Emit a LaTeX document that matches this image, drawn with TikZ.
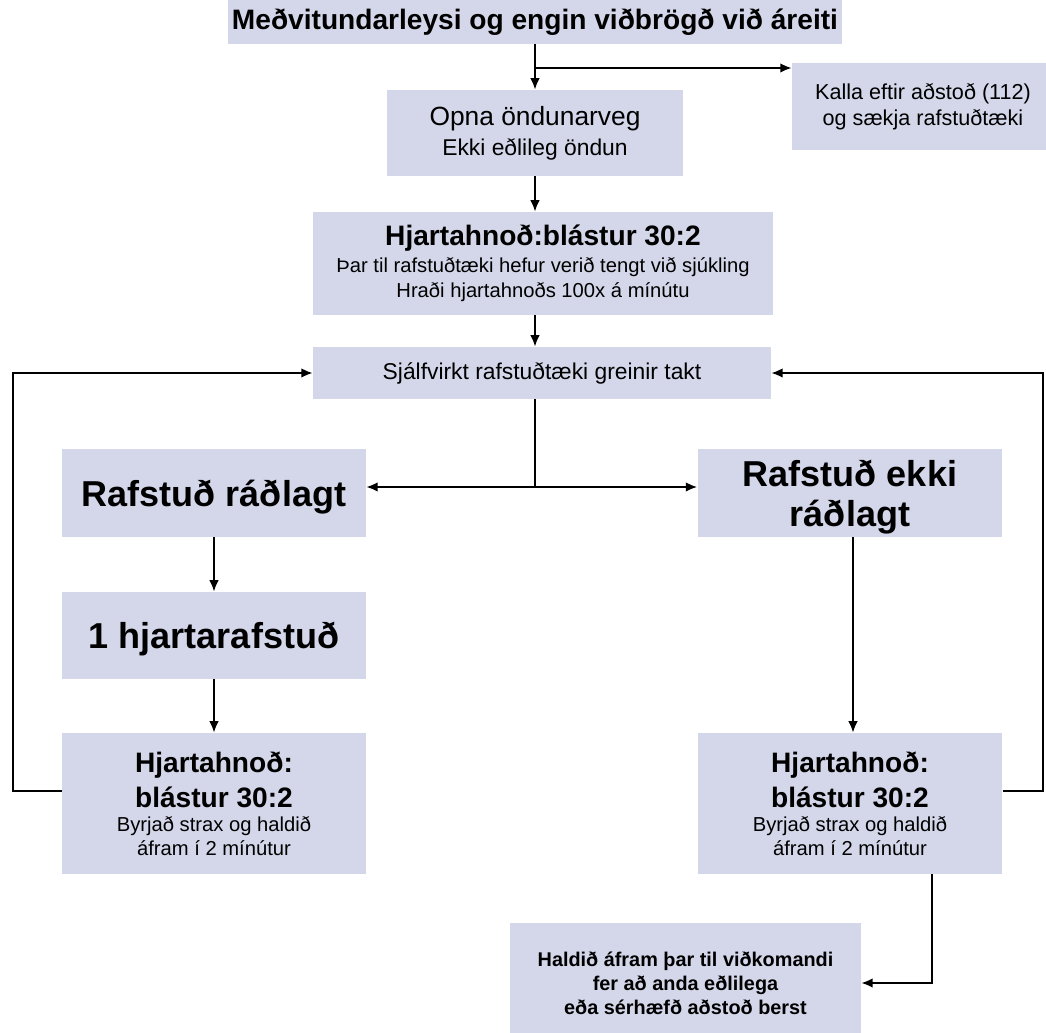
\documentclass[tikz,border=0pt]{standalone}
\usepackage{fontspec}
\usetikzlibrary{arrows.meta}
\setmainfont{Liberation Sans}
\definecolor{boxfill}{RGB}{212,215,233}
\newcommand{\fhead}{\fontsize{16}{19}\selectfont\bfseries}
\newcommand{\fbig}{\fontsize{20.5}{22.8}\selectfont\bfseries}
\newcommand{\fmid}{\fontsize{15}{17}\selectfont}
\newcommand{\fsub}{\fontsize{11.5}{13.5}\selectfont}
\tikzset{
  box/.style={fill=boxfill,inner sep=0pt,align=center,anchor=center},
  flow/.style={line width=1.1pt,-{Latex[length=6.5pt,width=5.5pt]}},
  link/.style={line width=1.1pt},
}
\begin{document}
\begin{tikzpicture}[x=0.02cm,y=-0.02cm]
\useasboundingbox(0,0)rectangle(1046,1033);
% boxes
\node[box,minimum width=12.28cm,minimum height=0.88cm,font=\fhead](top)at(535,22){Meðvitundarleysi og engin viðbrögð við áreiti};
\node[box,minimum width=5.24cm,minimum height=1.74cm,font=\fontsize{12.3}{14.6}\selectfont](kalla)at(923,106.5){Kalla eftir aðstoð (112)\\og sækja rafstuðtæki};
\node[box,minimum width=5.92cm,minimum height=1.72cm,font=\fontsize{13}{17}\selectfont](opna)at(535,133){\fmid Opna öndunarveg\\Ekki eðlileg öndun};
\node[box,minimum width=9.2cm,minimum height=2.06cm,font=\fontsize{11.5}{13.7}\selectfont](hjl)at(543,263.5){\fhead Hjartahnoð:blástur 30:2\\[1.2pt]Þar til rafstuðtæki hefur verið tengt við sjúkling\\[0.8pt]Hraði hjartahnoðs 100x á mínútu};
\node[box,minimum width=9.16cm,minimum height=1.04cm,font=\fontsize{13}{15}\selectfont](greinir)at(542,373){Sjálfvirkt rafstuðtæki greinir takt};
\node[box,minimum width=6.08cm,minimum height=1.76cm,text depth=0pt,font=\fbig](radlagt)at(214,493){Rafstuð ráðlagt};
\node[box,minimum width=6.1cm,minimum height=1.76cm,text depth=0pt,font=\fbig](ekki)at(850,493){Rafstuð ekki\\ráðlagt};
\node[box,minimum width=6.08cm,minimum height=1.74cm,text depth=0pt,font=\fbig](stud)at(214,635.5){1 hjartarafstuð};
\node[box,minimum width=6.08cm,minimum height=2.82cm,font=\fsub](hjv)at(214,803.5){\fhead Hjartahnoð:\\[4.2pt]\fhead blástur 30:2\\[0.2pt]Byrjað strax og haldið\\áfram í 2 mínútur};
\node[box,minimum width=6.1cm,minimum height=2.82cm,font=\fsub](hjh)at(850,803.5){\fhead Hjartahnoð:\\[4.2pt]\fhead blástur 30:2\\[0.2pt]Byrjað strax og haldið\\áfram í 2 mínútur};
\node[box,minimum width=7.02cm,minimum height=2.4cm,font=\fontsize{11.3}{13.7}\selectfont\bfseries](haldid)at(685.5,983){Haldið áfram þar til viðkomandi\\fer að anda eðlilega\\eða sérhæfð aðstoð berst};
% connectors
\coordinate(j1)at(535,68);
\coordinate(j2)at(535,487);
\coordinate(c1)at(853,0);
\coordinate(l1)at(13,791);
\coordinate(r1)at(1043,791);
\coordinate(b1)at(932,983);
\draw[flow](top.south)--(opna.north);
\draw[flow](j1)--(j1-|kalla.west);
\draw[flow](opna.south)--(opna.south|-hjl.north);
\draw[flow](opna.south|-hjl.south)--(opna.south|-greinir.north);
\draw[link](opna.south|-greinir.south)--(j2);
\draw[flow](j2)--(j2-|radlagt.east);
\draw[flow](j2)--(j2-|ekki.west);
\draw[flow](radlagt.south)--(stud.north);
\draw[flow](stud.south)--(hjv.north);
\draw[flow](c1|-ekki.south)--(c1|-hjh.north);
\draw[flow](hjv.west|-l1)--(l1)|-(greinir.west);
\draw[flow](hjh.east|-r1)--(r1)|-(greinir.east);
\draw[flow](b1|-hjh.south)--(b1)--(b1-|haldid.east);
\end{tikzpicture}
\end{document}
